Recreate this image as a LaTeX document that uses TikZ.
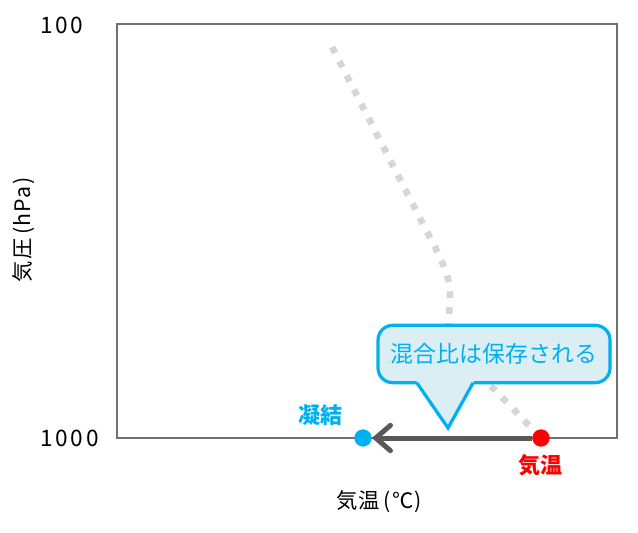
\documentclass[tikz,border=0pt]{standalone}
\usepackage{fontspec}
\usepackage{tikz}
\usepackage{xcolor}
\usetikzlibrary{arrows.meta}
\setmainfont{Noto Sans CJK JP}
\newfontfamily\numfont[LetterSpace=12]{Noto Sans CJK JP}
\newfontfamily\axisfont[LetterSpace=6]{Noto Sans CJK JP}
\definecolor{skyline}{HTML}{00B0F0}
\definecolor{bubblebg}{HTML}{DAEEF3}
\definecolor{shaft}{HTML}{595959}
\definecolor{frameg}{HTML}{707070}
\definecolor{trace}{HTML}{D6D6D6}

\begin{document}
\begin{tikzpicture}[x=0.75pt,y=-0.75pt,
    every node/.style={font=\fontsize{16pt}{19pt}\axisfont,inner sep=0pt},
    frame/.style={draw=frameg,line width=2pt},
    mixline/.style={draw=trace,line width=5pt,dash pattern=on 5pt off 7pt},
    dot/.style={circle,minimum size=13pt},
    flow/.style={draw=shaft,line width=3.75pt,
        -{Straight Barb[length=11pt,width=19pt,line cap=round]}},
    tag/.style={font=\fontsize{16.5pt}{19pt}\selectfont\bfseries},
    tick/.style={anchor=west,font=\fontsize{17pt}{20pt}\numfont}]
    \useasboundingbox (0,0) rectangle (638,532);
    % plot frame
    \coordinate (top) at (332,47);
    \draw[frame] (117,438) -- (117,24) -- (617,24) -- (617,438) -- cycle;
    % mixing ratio line
    \draw[mixline] (top) -- (425,228) .. controls (445,265) and (451,280) .. (450,300)
        -- (448,330) .. controls (447,352) and (468,368) .. (495,390) -- (541,438);
    % callout
    \node[draw=skyline,fill=bubblebg,line width=2.4pt,rounded corners=11pt,
          minimum width=174pt,minimum height=43pt,text=skyline,
          font=\fontsize{17.2pt}{20pt}\selectfont] (bubble) at (494,354) {混合比は保存される};
    \fill[bubblebg] (415,379) -- (448,428) -- (475,379) -- cycle;
    \draw[skyline,line width=2.4pt,line join=miter] (417,383) -- (448,428) -- (473,383);
    % parcel
    \node[dot,fill=red] (air) at (541,438) {};
    \node[dot,fill=skyline] (dew) at (363,438) {};
    \draw[flow] (air) -- (dew);
    \node[tag,text=skyline] (dewtag) at (320,415) {凝結};
    \node[tag,text=red] (airtag) at (540,465) {気温};
    % axes
    \node[tick] (p100) at (40,25) {100};
    \node[tick] (p1000) at (40,438) {1000};
    \node (xlab) at (379,502) {気温\,(℃)};
    \node[rotate=90] (ylab) at (24,230) {気圧\,(hPa)};
\end{tikzpicture}
\end{document}
